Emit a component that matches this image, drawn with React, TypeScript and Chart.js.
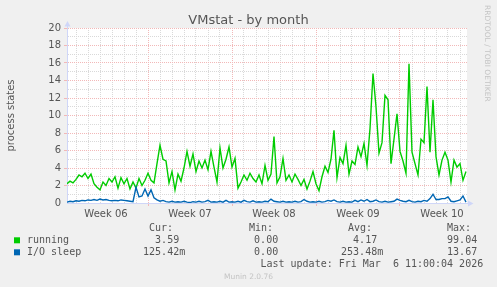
import React, { useEffect, useRef } from 'react';
import { Chart, registerables } from 'chart.js';

Chart.register(...registerables);

// ---------- data ----------
const STEP_DAYS = 0.25; // one sample every 6 hours
const running = [
  2.2, 2.5, 2.3, 2.7, 3.2, 3.0, 3.4, 2.8, 3.3, 2.2,
  1.8, 1.5, 2.4, 2.0, 2.8, 2.4, 3.0, 1.7, 2.9, 2.2,
  2.8, 1.6, 2.4, 1.7, 2.8, 2.0, 2.6, 3.4, 2.6, 2.3,
  4.5, 6.6, 5.0, 4.8, 2.3, 3.6, 1.5, 3.3, 2.5, 4.0,
  5.9, 4.2, 5.6, 3.6, 4.8, 4.0, 4.9, 3.8, 5.9, 4.1,
  2.4, 6.3, 4.0, 5.0, 6.4, 4.1, 5.1, 1.7, 2.4, 3.2,
  2.6, 3.4, 2.8, 2.4, 3.2, 2.2, 4.3, 2.6, 3.3, 7.6,
  2.3, 3.0, 5.1, 2.6, 3.2, 2.4, 3.3, 2.7, 2.0, 2.7,
  1.6, 2.5, 3.6, 2.2, 1.4, 3.0, 4.2, 3.5, 5.0, 8.3,
  2.9, 5.2, 4.5, 6.6, 3.3, 4.8, 4.4, 6.4, 5.3, 6.8,
  4.3, 8.5, 14.8, 11.0, 5.7, 6.9, 12.3, 11.8, 4.5, 7.3,
  10.2, 5.9, 4.8, 3.4, 15.9, 5.8, 4.5, 3.2, 7.3, 6.9,
  13.3, 5.8, 11.8, 5.3, 3.2, 4.9, 5.8, 4.9, 2.4, 4.9,
  4.1, 4.5, 2.6, 3.6,
];
const ioSleep = [
  0.1, 0.2, 0.15, 0.25, 0.2, 0.3, 0.25, 0.35, 0.3, 0.4,
  0.3, 0.45, 0.35, 0.4, 0.3, 0.25, 0.3, 0.25, 0.35, 0.3,
  0.25, 0.2, 0.15, 1.8, 0.7, 0.8, 1.6, 0.8, 1.5, 0.6,
  0.35, 0.2, 0.3, 0.15, 0.1, 0.2, 0.1, 0.15, 0.1, 0.2,
  0.1, 0.05, 0.15, 0.1, 0.2, 0.1, 0.15, 0.3, 0.1, 0.15,
  0.1, 0.2, 0.1, 0.3, 0.1, 0.15, 0.1, 0.2, 0.1, 0.3,
  0.15, 0.1, 0.25, 0.1, 0.15, 0.1, 0.2, 0.15, 0.45, 0.2,
  0.15, 0.1, 0.2, 0.1, 0.15, 0.1, 0.2, 0.1, 0.15, 0.4,
  0.2, 0.1, 0.15, 0.1, 0.2, 0.1, 0.15, 0.3, 0.2, 0.35,
  0.15, 0.1, 0.2, 0.1, 0.15, 0.1, 0.3, 0.15, 0.35, 0.2,
  0.4, 0.15, 0.2, 0.35, 0.15, 0.1, 0.2, 0.1, 0.15, 0.2,
  0.45, 0.3, 0.2, 0.15, 0.3, 0.15, 0.1, 0.2, 0.15, 0.3,
  0.2, 0.5, 1.0, 0.4, 0.4, 0.5, 0.5, 0.7, 0.2, 0.15,
  0.25, 0.35, 0.8, 0.1,
];

const weekLabels = ['Week 06', 'Week 07', 'Week 08', 'Week 09', 'Week 10'];
const weekLabelDays = [3.25, 10.25, 17.25, 24.25, 31.25];
const weekStartDays = [6.75, 13.75, 20.75, 27.75];
const firstDayLine = 0.75;
const xMaxDays = 100 / 3;
const yMin = 0;
const yMax = 20;

const seriesNames = ['running', 'I/O sleep'];
const seriesColors = ['#00cc00', '#0066b3'];
const curVals = ['3.59 ', '125.42m'];
const minVals = ['0.00 ', '0.00 '];
const avgVals = ['4.17 ', '253.48m'];
const maxVals = ['99.04 ', '13.67 '];
const lastUpdate = 'Last update: Fri Mar  6 11:00:04 2026';
const titleText = 'VMstat - by month';
const yTitle = 'process states';
const watermark = 'RRDTOOL / TOBI OETIKER';
const footer = 'Munin 2.0.76';

// ---------- style ----------
const W = 497;
const H = 287;
const BACK = '#f0f0f0';
const FONT = '#555555';
const AXIS = '#cfd6f8';
const MINOR = '#d9d9d9';
const MAJOR = '#f2b8b8';
const SANS = '"DejaVu Sans", sans-serif';
const MONO = '"DejaVu Sans Mono", monospace';

const isDay = (v: number) => Math.abs(v - firstDayLine - Math.round(v - firstDayLine)) < 1e-6;
const isWeekStart = (v: number) => weekStartDays.some((d) => Math.abs(d - v) < 1e-6);
const labelFor = (v: number) => {
  const i = weekLabelDays.findIndex((d) => Math.abs(d - v) < 1e-6);
  return i >= 0 ? weekLabels[i] : '';
};

const muninPlugin = {
  id: 'munin',
  beforeDraw(chart: any) {
    const { ctx, chartArea: a } = chart;
    ctx.save();
    ctx.fillStyle = BACK;
    ctx.fillRect(0, 0, chart.width, chart.height);
    ctx.fillStyle = '#ffffff';
    ctx.fillRect(a.left, a.top, a.right - a.left, a.bottom - a.top);
    ctx.restore();
  },
  afterDraw(chart: any) {
    const { ctx, chartArea: a } = chart;
    ctx.save();
    // axis extensions + arrows
    ctx.strokeStyle = AXIS;
    ctx.fillStyle = AXIS;
    ctx.lineWidth = 1;
    ctx.beginPath();
    ctx.moveTo(a.left + 0.5, a.top + 1);
    ctx.lineTo(a.left + 0.5, a.top - 3);
    ctx.moveTo(a.right - 1, a.bottom + 0.5);
    ctx.lineTo(a.right + 2, a.bottom + 0.5);
    ctx.stroke();
    ctx.beginPath();
    ctx.moveTo(a.left + 0.5, a.top - 7);
    ctx.lineTo(a.left - 2.5, a.top - 1.5);
    ctx.lineTo(a.left + 3.5, a.top - 1.5);
    ctx.closePath();
    ctx.fill();
    ctx.beginPath();
    ctx.moveTo(a.right + 6.5, a.bottom + 0.5);
    ctx.lineTo(a.right + 1, a.bottom - 2.5);
    ctx.lineTo(a.right + 1, a.bottom + 3.5);
    ctx.closePath();
    ctx.fill();

    // title
    ctx.fillStyle = FONT;
    ctx.font = `13px ${SANS}`;
    ctx.textAlign = 'center';
    ctx.textBaseline = 'alphabetic';
    ctx.fillText(titleText, 248.5, 24);

    // watermark
    ctx.save();
    ctx.translate(485, 5);
    ctx.rotate(Math.PI / 2);
    ctx.fillStyle = '#c4c4c4';
    ctx.font = `7.5px ${SANS}`;
    ctx.textAlign = 'left';
    ctx.textBaseline = 'alphabetic';
    ctx.fillText(watermark, 0, 0);
    ctx.restore();

    // legend
    ctx.font = `10px ${MONO}`;
    ctx.fillStyle = FONT;
    ctx.textBaseline = 'alphabetic';
    ctx.textAlign = 'left';
    ctx.fillText('Cur:', 149, 231);
    ctx.fillText('Min:', 249, 231);
    ctx.fillText('Avg:', 348, 231);
    ctx.fillText('Max:', 447, 231);
    seriesNames.forEach((name, i) => {
      const y = 243.3 + i * 12;
      ctx.fillStyle = seriesColors[i];
      ctx.fillRect(14, y - 6, 6, 6);
      ctx.fillStyle = FONT;
      ctx.textAlign = 'left';
      ctx.fillText(name, 27, y);
      ctx.textAlign = 'right';
      ctx.fillText(curVals[i], 185.2, y);
      ctx.fillText(minVals[i], 284.2, y);
      ctx.fillText(avgVals[i], 383.2, y);
      ctx.fillText(maxVals[i], 483.2, y);
    });
    ctx.textAlign = 'right';
    ctx.fillText(lastUpdate, 483.2, 267);

    ctx.textAlign = 'center';
    ctx.fillStyle = '#c4c4c4';
    ctx.font = `7.5px ${SANS}`;
    ctx.fillText(footer, 248.5, 279);
    ctx.restore();
  },
};

function buildXTicks() {
  const vals: number[] = [];
  for (let d = firstDayLine; d < xMaxDays; d += 1) vals.push(d);
  weekLabelDays.forEach((d) => vals.push(d));
  vals.sort((p, q) => p - q);
  return vals.map((value) => ({ value }));
}

export default function App() {
  const ref = useRef<HTMLCanvasElement>(null);
  useEffect(() => {
    document.body.style.margin = '0';
    document.body.style.background = BACK;
    const canvas = ref.current;
    if (!canvas) return;
    const chart = new Chart(canvas, {
      type: 'line',
      data: {
        datasets: [
          {
            label: seriesNames[1],
            data: ioSleep.map((v, i) => ({ x: i * STEP_DAYS, y: v })),
            borderColor: seriesColors[1],
            borderWidth: 1.4,
            pointRadius: 0,
            tension: 0,
            fill: false,
            order: 0,
          },
          {
            label: seriesNames[0],
            data: running.map((v, i) => ({ x: i * STEP_DAYS, y: v })),
            borderColor: seriesColors[0],
            borderWidth: 1.4,
            pointRadius: 0,
            tension: 0,
            fill: false,
            order: 1,
          },
        ],
      },
      options: {
        animation: false,
        responsive: false,
        maintainAspectRatio: false,
        events: [],
        layout: { padding: { top: 28, right: 30, left: 0, bottom: 0 } },
        plugins: {
          legend: { display: false },
          title: { display: false },
          tooltip: { enabled: false },
        },
        scales: {
          x: {
            type: 'linear',
            min: 0,
            max: xMaxDays,
            afterBuildTicks: (s: any) => {
              s.ticks = buildXTicks();
            },
            afterFit: (s: any) => {
              s.height = H - 203;
            },
            ticks: {
              autoSkip: false,
              maxRotation: 0,
              minRotation: 0,
              padding: 2,
              color: FONT,
              font: { family: SANS, size: 10 },
              callback: (v: any) => labelFor(Number(v)),
            },
            grid: {
              drawTicks: true,
              tickLength: 3,
              lineWidth: 1,
              color: (c: any) => {
                const v = c.tick ? c.tick.value : NaN;
                if (isWeekStart(v)) return MAJOR;
                if (isDay(v)) return MINOR;
                return 'rgba(0,0,0,0)';
              },
              tickColor: (c: any) => {
                const v = c.tick ? c.tick.value : NaN;
                return isWeekStart(v) ? MAJOR : 'rgba(0,0,0,0)';
              },
            },
            border: { display: true, color: AXIS, width: 1, dash: [1, 1] },
          },
          y: {
            min: yMin,
            max: yMax,
            afterFit: (s: any) => {
              s.width = 67;
            },
            ticks: {
              stepSize: 1,
              autoSkip: false,
              padding: 3,
              color: FONT,
              font: { family: SANS, size: 10 },
              callback: (v: any) => (Number(v) % 2 === 0 ? String(v) : ''),
            },
            grid: {
              drawTicks: true,
              tickLength: 3,
              lineWidth: 1,
              color: (c: any) => {
                const v = c.tick ? c.tick.value : NaN;
                if (v === 0) return 'rgba(0,0,0,0)';
                return v % 2 === 0 ? MAJOR : MINOR;
              },
              tickColor: (c: any) => {
                const v = c.tick ? c.tick.value : NaN;
                return v % 2 === 0 && v !== 0 ? MAJOR : 'rgba(0,0,0,0)';
              },
            },
            border: { display: true, color: AXIS, width: 1, dash: [1, 1] },
            title: {
              display: true,
              text: yTitle,
              color: FONT,
              font: { family: SANS, size: 10 },
              padding: { top: 5.5, bottom: 0 },
            },
          },
        },
      },
      plugins: [muninPlugin],
    } as any);
    return () => chart.destroy();
  }, []);
  return (
    <div style={{ width: W, height: H }}>
      <canvas ref={ref} width={W} height={H} style={{ display: 'block', width: W, height: H }} />
    </div>
  );
}
